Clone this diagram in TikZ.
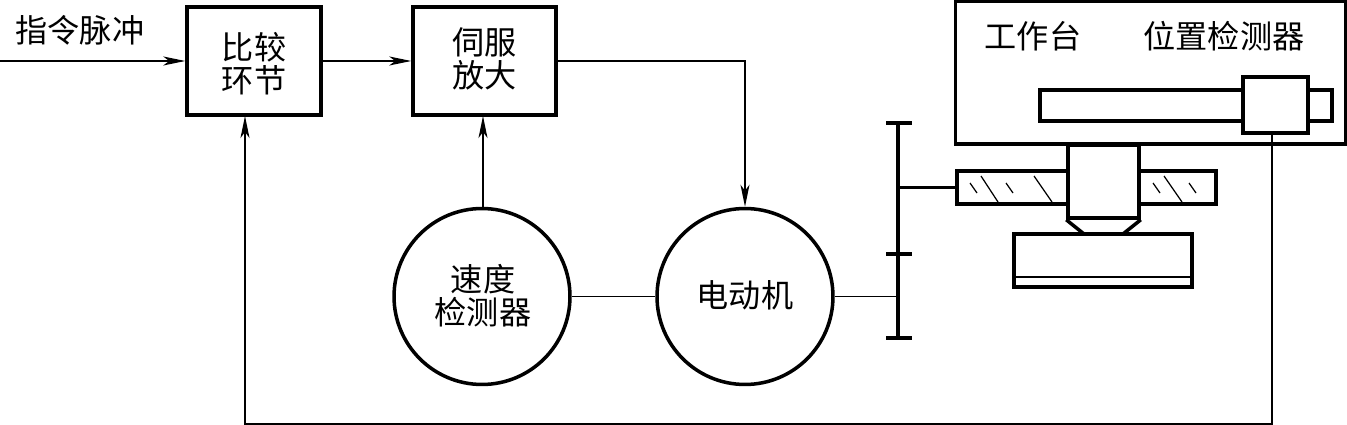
\documentclass[tikz,border=0pt]{standalone}
\usepackage{fontspec}
\newfontfamily\cjk{Noto Sans CJK SC}
\usetikzlibrary{arrows.meta}
\tikzset{
  thinline/.style={line width=0.85pt},
  thickline/.style={line width=2pt},
  arrowline/.style={thinline,-{Stealth[length=4.4mm,width=1.8mm,inset=1.2mm]}},
  hatchline/.style={line width=0.7pt},
  labeltext/.style={font=\cjk\fontsize{18.3}{18.7}\selectfont,align=center,inner sep=0pt},
  blockbox/.style={draw,thickline,rectangle,minimum height=2.16cm,inner sep=0pt},
  roundbox/.style={draw,thickline,circle,minimum size=3.52cm,inner sep=0pt},
  partbox/.style={draw,thickline,rectangle,inner sep=0pt}
}
\begin{document}
\begin{tikzpicture}[x=0.02cm,y=-0.02cm]
\useasboundingbox (0,0) rectangle (1347,425);

 \node[blockbox,minimum width=2.68cm] (compare) at (254,61) {};
 \node[blockbox,minimum width=2.86cm] (servo) at (484.5,61) {};
 \node[roundbox] (speed) at (482,296.5) {};
 \node[roundbox] (motor) at (745,296.5) {};

 \node[labeltext] at (254,63.5) {比较\\环节};
 \node[labeltext] at (484.5,58.5) {伺服\\放大};
 \node[labeltext] at (483,296) {速度\\检测器};
 \node[labeltext] at (745,295) {电动机};
 \node[labeltext] at (80,30) {指令脉冲};
 \node[labeltext] at (1033,36) {工作台};
 \node[labeltext] at (1224,36) {位置检测器};

 \node[partbox,minimum width=7.8cm,minimum height=2.86cm] (worktable) at (1150.5,72.5) {};
 \node[partbox,minimum width=5.84cm,minimum height=0.62cm] (rod) at (1186,105.5) {};
 \node[partbox,fill=white,minimum width=1.3cm,minimum height=1.12cm] (slider) at (1275.5,105) {};
 \node[partbox,minimum width=2.22cm,minimum height=0.66cm] (screwl) at (1012.5,187.5) {};
 \node[partbox,minimum width=1.54cm,minimum height=0.66cm] (screwr) at (1177.5,187.5) {};
 \node[partbox,fill=white,minimum width=1.42cm,minimum height=1.46cm] (column) at (1103.5,181.5) {};
 \node[partbox,minimum width=3.56cm,minimum height=1.06cm] (base) at (1103,260.5) {};

 \draw[thickline] (column.south west)--(1084,234);
 \draw[thickline] (column.south east)--(1123,234);
 \draw[line width=1.6pt] (1014,277)--(1192,277);

 \coordinate (geartop) at (898,123);
 \coordinate (gearmid) at (898,254);
 \coordinate (gearlow) at (898,338);
 \coordinate (gearscrew) at (898,187.5);
 \coordinate (gearmotor) at (898,296.5);
 \draw[thickline] (geartop)--(gearlow);
 \draw[thickline] (886,123)--(912,123);
 \draw[thickline] (886,254)--(912,254);
 \draw[thickline] (886,338)--(912,338);

 \draw[hatchline] (970,183)--(977,193);
 \draw[hatchline] (981,176)--(998,202);
 \draw[hatchline] (1006,183)--(1013,193);
 \draw[hatchline] (1034,176)--(1052,202);
 \draw[hatchline] (1153,183)--(1160,193);
 \draw[hatchline] (1164,176)--(1182,202);
 \draw[hatchline] (1189,183)--(1196,193);

 \coordinate (inpulse) at (0,61);
 \coordinate (servoturn) at (745,61);
 \coordinate (fbstart) at (1272,133);
 \coordinate (fbright) at (1272,424);
 \coordinate (fbleft) at (245,424);
 \coordinate (fbend) at (245,116);
 \coordinate (speedup) at (483,209);
 \coordinate (speedend) at (483,116);

 \draw[arrowline] (inpulse)--(compare);
 \draw[arrowline] (compare)--(servo);
 \draw[arrowline] (servo.east)--(servoturn)--(motor.north);
 \draw[arrowline] (speedup)--(speedend);
 \draw[thinline] (speed)--(motor);
 \draw[thinline] (motor.east)--(gearmotor);
 \draw[line width=1.2pt] (gearscrew)--(screwl.west);
 \draw[arrowline] (fbstart)--(fbright)--(fbleft)--(fbend);
\end{tikzpicture}
\end{document}
